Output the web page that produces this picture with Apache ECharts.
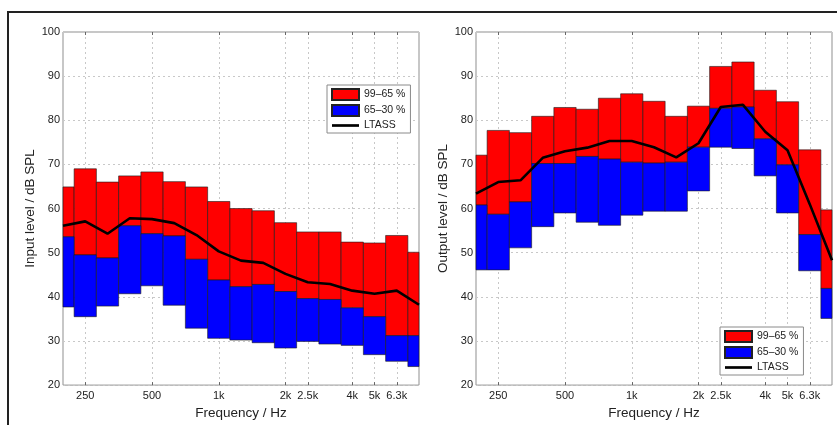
<!DOCTYPE html>
<html><head><meta charset="utf-8">
<script src="https://cdn.jsdelivr.net/npm/echarts@6/dist/echarts.min.js"></script>
<style>html,body{margin:0;padding:0;background:#fff}#c{width:837px;height:425px}</style>
</head><body><div id="c"></div>
<script>
// third-octave band centre frequencies (Hz)
const freqs = [200,250,315,400,500,630,800,1000,1250,1600,2000,2500,3150,4000,5000,6300,8000];
const tickFreqs = [250,500,1000,2000,2500,4000,5000,6300];
const tickLabels = ['250','500','1k','2k','2.5k','4k','5k','6.3k'];
const yTicks = [20,30,40,50,60,70,80,90,100];

// Input (left panel), dB SPL percentiles
const inP99 = [64.9,69.0,66.0,67.4,68.3,66.1,64.9,61.6,60.0,59.5,56.8,54.7,54.7,52.4,52.2,53.9,50.1];
const inP65 = [53.6,49.5,48.8,56.1,54.3,53.8,48.5,43.8,42.3,42.8,41.2,39.6,39.4,37.5,35.5,31.2,31.2];
const inP30 = [37.7,35.5,37.9,40.7,42.5,38.1,32.9,30.6,30.2,29.6,28.4,29.9,29.3,29.0,26.9,25.4,24.2];
const inLtass = [56.1,57.1,54.3,57.8,57.6,56.7,54.0,50.3,48.2,47.7,45.2,43.3,42.9,41.4,40.7,41.4,38.2];

// Output (right panel)
const outP99 = [72.1,77.7,77.2,80.9,82.9,82.5,85.0,86.0,84.3,80.9,83.2,92.2,93.2,86.8,84.2,73.3,59.7];
const outP65 = [60.8,58.7,61.5,70.2,70.2,71.8,71.2,70.5,70.3,70.5,73.9,82.7,83.0,75.8,69.9,54.1,41.9];
const outP30 = [46.1,46.1,51.1,55.9,59.0,56.9,56.2,58.5,59.4,59.4,64.0,73.9,73.6,67.4,59.0,45.9,35.1];
const outLtass = [63.4,66.0,66.4,71.5,73.0,73.8,75.3,75.3,73.9,71.6,74.8,83.0,83.5,77.4,73.2,61.0,48.3];

const NAME_HI = '99\u201365 %', NAME_LO = '65\u201330 %', NAME_L = 'LTASS';
const RED = '#ff0000', BLUE = '#0000ff';
const FONT = 'Liberation Sans, Arial, sans-serif';
const TXT = '#222';

const tickIdx = tickFreqs.map(f => freqs.indexOf(f));
const fmtX = v => { const k = tickIdx.indexOf(Math.round(v)); return k >= 0 ? tickLabels[k] : ''; };

function bandRect(params, api) {
  const i = api.value(0), lo = api.value(1), hi = api.value(2);
  const a = api.coord([i - 0.5, hi]);
  const b = api.coord([i + 0.5, lo]);
  const cs = params.coordSys;
  const x0 = Math.max(a[0], cs.x), x1 = Math.min(b[0], cs.x + cs.width);
  return {
    type: 'rect',
    shape: { x: x0, y: a[1], width: x1 - x0, height: b[1] - a[1] },
    style: { fill: api.visual('color'), stroke: '#1a1a1a', lineWidth: 0.6 }
  };
}

const grids = [
  { left: 63, top: 32, width: 356, height: 355, show: true, borderColor: '#8f8f8f', borderWidth: 1, backgroundColor: 'transparent' },
  { left: 476, top: 32, width: 356, height: 355, show: true, borderColor: '#8f8f8f', borderWidth: 1, backgroundColor: 'transparent' }
];

function xAxes(g) {
  return [
    {
      type: 'value', gridIndex: g, min: 0, max: freqs.length - 1, position: 'bottom',
      name: 'Frequency / Hz', nameLocation: 'middle', nameGap: 17,
      nameTextStyle: { fontFamily: FONT, fontSize: 13.5, color: TXT },
      axisLine: { show: false },
      axisTick: { show: true, inside: true, length: 3, customValues: tickIdx, lineStyle: { color: '#666' } },
      axisLabel: { customValues: tickIdx, formatter: fmtX, fontFamily: FONT, fontSize: 11, color: TXT, margin: 5 },
      splitLine: { show: true, lineStyle: { color: '#c8c8c8', type: [2, 3], width: 1 } }
    },
    {
      type: 'value', gridIndex: g, min: 0, max: freqs.length - 1, position: 'top',
      axisLine: { show: false },
      axisTick: { show: true, inside: true, length: 3, customValues: tickIdx, lineStyle: { color: '#666' } },
      axisLabel: { show: false },
      splitLine: { show: false }
    }
  ];
}
function yAxis(g, name, gap) {
  return {
    type: 'value', gridIndex: g, min: 20, max: 100, interval: 10, position: 'left',
    name: name, nameLocation: 'middle', nameGap: gap,
    nameTextStyle: { fontFamily: FONT, fontSize: 13.5, color: TXT },
    axisLine: { show: false },
    axisTick: { show: false },
    axisLabel: { fontFamily: FONT, fontSize: 11, color: TXT, margin: 3 },
    splitLine: { show: true, lineStyle: { color: '#c8c8c8', type: [2, 3], width: 1 } }
  };
}

function panelSeries(g, p99, p65, p30, lt) {
  const xi = g * 2, yi = g;
  return [
    {
      type: 'custom', name: NAME_HI, xAxisIndex: xi, yAxisIndex: yi, renderItem: bandRect,
      itemStyle: { color: RED, borderColor: '#222', borderWidth: 0.5 },
      encode: { x: 0, y: [1, 2] },
      data: freqs.map((f, i) => [i, p65[i], p99[i]]), z: 2
    },
    {
      type: 'custom', name: NAME_LO, xAxisIndex: xi, yAxisIndex: yi, renderItem: bandRect,
      itemStyle: { color: BLUE, borderColor: '#222', borderWidth: 0.5 },
      encode: { x: 0, y: [1, 2] },
      data: freqs.map((f, i) => [i, p30[i], p65[i]]), z: 2
    },
    {
      type: 'line', name: NAME_L, xAxisIndex: xi, yAxisIndex: yi,
      data: freqs.map((f, i) => [i, lt[i]]),
      symbol: 'none', color: '#000',
      itemStyle: { color: '#000' },
      lineStyle: { color: '#000', width: 2.6 }, z: 5, animation: false
    }
  ];
}

function legend(left, top) {
  return {
    orient: 'vertical', left: left, top: top,
    data: [
      { name: NAME_HI, icon: 'rect' },
      { name: NAME_LO, icon: 'rect' },
      { name: NAME_L, icon: 'path://M0,0H30V3H0Z', itemStyle: { color: '#000', borderWidth: 0 } }
    ],
    itemWidth: 27, itemHeight: 11, itemGap: 3,
    padding: [3, 5, 2, 4],
    borderColor: '#8a8a8a', borderWidth: 1, backgroundColor: '#fff',
    textStyle: { fontFamily: FONT, fontSize: 10.5, color: TXT },
    selectedMode: false
  };
}

const chart = echarts.init(document.getElementById('c'), null, { renderer: 'canvas' });
chart.setOption({
  animation: false,
  backgroundColor: '#fff',
  grid: grids,
  xAxis: [...xAxes(0), ...xAxes(1)],
  yAxis: [yAxis(0, 'Input level / dB SPL', 26), yAxis(1, 'Output level / dB SPL', 25)],
  legend: [legend(327, 85), legend(720, 327)],
  series: [...panelSeries(0, inP99, inP65, inP30, inLtass), ...panelSeries(1, outP99, outP65, outP30, outLtass)],
  graphic: [{
    type: 'polyline', silent: true,
    shape: { points: [[8, 425], [8, 12], [837, 12]] },
    style: { stroke: '#222', lineWidth: 2, fill: null }
  }]
});
</script></body></html>
